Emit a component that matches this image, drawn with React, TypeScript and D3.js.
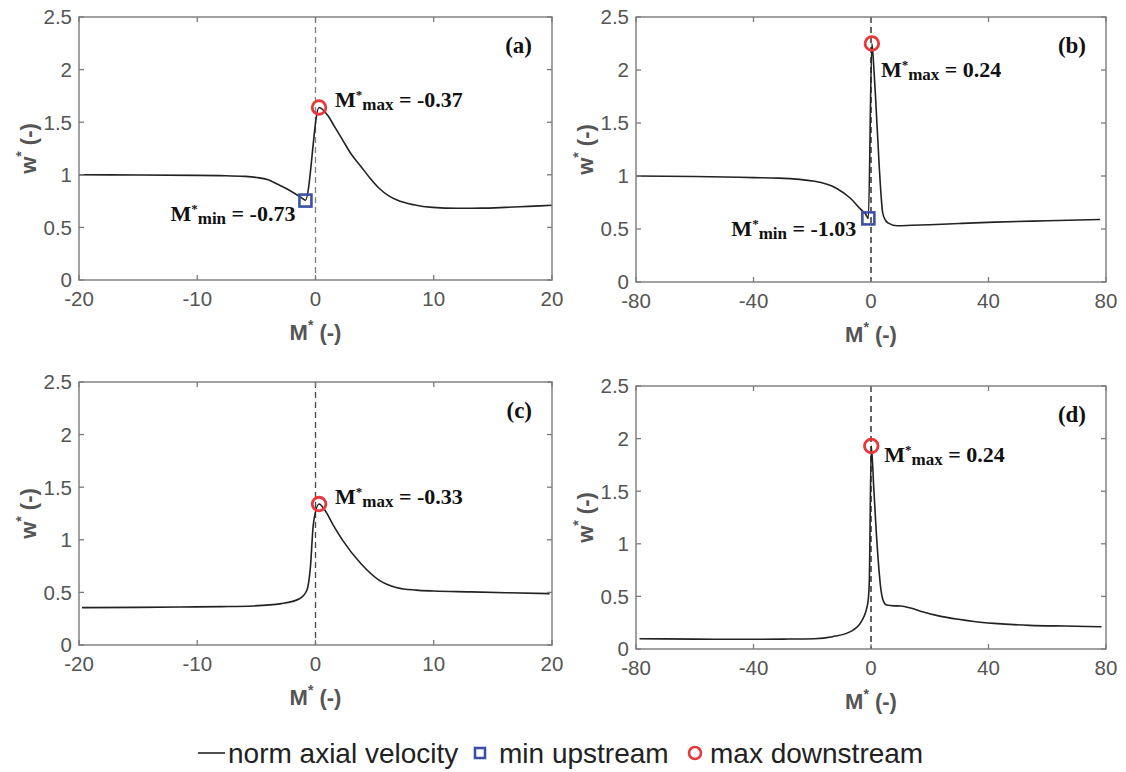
import React from 'react';
import * as d3 from 'd3';

// ---------- data ----------
const xA = [-20, -15, -10, -8, -6, -5, -4, -3.2, -2.4, -1.65, -1.2, -0.85, 0.3, 1.0, 1.6, 2.3, 3.0, 3.84, 4.6, 5.4, 6.2, 6.9, 8.3, 9.9, 12, 14, 16, 18, 20];
const yA = [1.0, 0.998, 0.995, 0.992, 0.985, 0.975, 0.952, 0.91, 0.865, 0.815, 0.783, 0.758, 1.64, 1.57, 1.46, 1.33, 1.2, 1.08, 0.97, 0.87, 0.8, 0.76, 0.715, 0.69, 0.682, 0.683, 0.69, 0.7, 0.71];

const xB = [-80, -60, -40, -31.4, -19.2, -11.8, -7, -3.3, -1.8, -0.9, 0.3, 0.9, 1.6, 2.8, 4.0, 5.0, 5.9, 8.9, 14, 20, 30, 42, 60, 78];
const yB = [1.0, 0.995, 0.985, 0.98, 0.95, 0.885, 0.79, 0.68, 0.64, 0.6, 2.25, 2.05, 1.72, 1.09, 0.65, 0.58, 0.555, 0.53, 0.535, 0.54, 0.552, 0.565, 0.578, 0.59];

const xC = [-19.75, -15, -11.4, -8, -5.3, -2.9, -1.35, -0.73, -0.43, -0.18, 0.3, 0.8, 1.5, 2.3, 3.85, 5.4, 6.9, 8.5, 10, 13, 16.1, 19.8];
const yC = [0.355, 0.358, 0.361, 0.365, 0.371, 0.393, 0.44, 0.52, 0.74, 1.15, 1.34, 1.28, 1.14, 0.995, 0.773, 0.615, 0.545, 0.522, 0.513, 0.505, 0.497, 0.488];

const xD = [-78.8, -60, -43.6, -30, -19.2, -13.1, -7, -3.3, -1.1, -0.6, 0.1, 0.98, 2.2, 3.4, 4.3, 5.25, 8, 10.1, 13.8, 17.5, 23, 29.7, 35, 41.9, 54, 66, 78.5];
const yD = [0.098, 0.094, 0.092, 0.094, 0.098, 0.117, 0.165, 0.26, 0.434, 0.62, 1.93, 1.51, 0.94, 0.56, 0.45, 0.418, 0.41, 0.409, 0.387, 0.355, 0.315, 0.282, 0.262, 0.244, 0.225, 0.218, 0.212];

const maxX = [0.3, 0.3, 0.3, 0.1];
const maxY = [1.64, 2.25, 1.34, 1.93];
const minX = [-0.85, -0.9];
const minY = [0.755, 0.6];
const maxLabels = ['-0.37', '0.24', '-0.33', '0.24'];
const minLabels = ['-0.73', '-1.03'];
const panelLetters = ['(a)', '(b)', '(c)', '(d)'];

const yTicks = [0, 0.5, 1, 1.5, 2, 2.5];
const xTicksNarrow = [-20, -10, 0, 10, 20];
const xTicksWide = [-80, -40, 0, 40, 80];

const legendLabels = ['norm axial velocity', 'min upstream', 'max downstream'];

// ---------- styles ----------
const SANS = '"Liberation Sans", Arial, Helvetica, sans-serif';
const SERIF = '"Liberation Serif", "Times New Roman", serif';
const AXIS = '#7a7a7a';
const TICKTXT = '#555555';
const RED = '#e8383b';
const BLUE = '#3d50a5';

type PanelProps = {
  idx: number;
  left: number; right: number; top: number; bottom: number;
  xDomain: [number, number];
  xTicks: number[];
  xs: number[]; ys: number[];
  dashColor: string;
  maxOff: [number, number];
  minOff?: [number, number];
  hasMin: boolean;
};

function Panel(p: PanelProps) {
  const x = d3.scaleLinear().domain(p.xDomain).range([p.left, p.right]);
  const y = d3.scaleLinear().domain([0, 2.5]).range([p.bottom, p.top]);
  const pts: [number, number][] = p.xs.map((v, i) => [v, p.ys[i]]);
  const line = d3.line<[number, number]>().x(d => x(d[0])).y(d => y(d[1])).curve(d3.curveMonotoneX);
  const tl = 5;
  const cx = x(maxX[p.idx]);
  const cy = y(maxY[p.idx]);
  const midY = (p.top + p.bottom) / 2;
  const x0 = x(0);
  return (
    <g>
      <line x1={x0} x2={x0} y1={p.top} y2={p.bottom} stroke={p.dashColor} strokeWidth={1.3} strokeDasharray="6,4" />
      <path d={line(pts) || ''} fill="none" stroke="#222" strokeWidth={1.6} />
      <rect x={p.left} y={p.top} width={p.right - p.left} height={p.bottom - p.top} fill="none" stroke={AXIS} strokeWidth={1.4} />
      {yTicks.map(t => (
        <g key={'y' + t}>
          <line x1={p.left} x2={p.left + tl} y1={y(t)} y2={y(t)} stroke={AXIS} strokeWidth={1.3} />
          <line x1={p.right} x2={p.right - tl} y1={y(t)} y2={y(t)} stroke={AXIS} strokeWidth={1.3} />
          <text x={p.left - 7} y={y(t)} dy="0.36em" textAnchor="end" fontFamily={SANS} fontSize={20.5} fill={TICKTXT}>{String(t)}</text>
        </g>
      ))}
      {p.xTicks.map(t => (
        <g key={'x' + t}>
          <line x1={x(t)} x2={x(t)} y1={p.bottom} y2={p.bottom - tl} stroke={AXIS} strokeWidth={1.3} />
          <line x1={x(t)} x2={x(t)} y1={p.top} y2={p.top + tl} stroke={AXIS} strokeWidth={1.3} />
          <text x={x(t)} y={p.bottom + 26} textAnchor="middle" fontFamily={SANS} fontSize={20.5} fill={TICKTXT}>{String(t)}</text>
        </g>
      ))}
      {/* x label */}
      <text x={x0} y={p.bottom + 60} textAnchor="middle" fontFamily={SANS} fontWeight="bold" fontSize={22} fill={TICKTXT}>
        M<tspan dy={-10} fontSize={14}>*</tspan><tspan dy={10}> (-)</tspan>
      </text>
      {/* y label */}
      <text transform={`translate(${p.left - 43},${midY}) rotate(-90)`} textAnchor="middle" fontFamily={SANS} fontWeight="bold" fontSize={22} fill={TICKTXT}>
        w<tspan dy={-10} fontSize={14}>*</tspan><tspan dy={10}> (-)</tspan>
      </text>
      {/* panel letter */}
      <text x={p.right - 20} y={p.top + 36} textAnchor="end" fontFamily={SERIF} fontWeight="bold" fontSize={23} fill="#111">{panelLetters[p.idx]}</text>
      {/* min marker */}
      {p.hasMin && p.minOff && (
        <g>
          <rect x={x(minX[p.idx]) - 6} y={y(minY[p.idx]) - 6} width={12} height={12} fill="none" stroke={BLUE} strokeWidth={2.6} />
          <text x={x(minX[p.idx]) + p.minOff[0]} y={y(minY[p.idx]) + p.minOff[1]} textAnchor="end" fontFamily={SERIF} fontWeight="bold" fontSize={22} fill="#111">
            M<tspan dy={-8} fontSize={13}>*</tspan><tspan dy={11} fontSize={17}>min</tspan><tspan dy={-3}>{' = ' + minLabels[p.idx]}</tspan>
          </text>
        </g>
      )}
      {/* max marker */}
      <circle cx={cx} cy={cy} r={6.8} fill="none" stroke={RED} strokeWidth={2.8} />
      <text x={cx + p.maxOff[0]} y={cy + p.maxOff[1]} fontFamily={SERIF} fontWeight="bold" fontSize={22} fill="#111">
        M<tspan dy={-8} fontSize={13}>*</tspan><tspan dy={11} fontSize={17}>max</tspan><tspan dy={-3}>{' = ' + maxLabels[p.idx]}</tspan>
      </text>
    </g>
  );
}

export default function App() {
  return (
    <svg width={1126} height={772} style={{ display: 'block', position: 'absolute', left: 0, top: 0 }} viewBox="0 0 1126 772">
      <rect x={0} y={0} width={1126} height={772} fill="#fff" />
      <Panel idx={0} left={79} right={552} top={17} bottom={280} xDomain={[-20, 20]} xTicks={xTicksNarrow} xs={xA} ys={yA} dashColor="#808080" maxOff={[16, 0]} minOff={[-10, 20]} hasMin={true} />
      <Panel idx={1} left={636} right={1106} top={17} bottom={282} xDomain={[-80, 80]} xTicks={xTicksWide} xs={xB} ys={yB} dashColor="#111" maxOff={[9, 33]} minOff={[-12, 18]} hasMin={true} />
      <Panel idx={2} left={79} right={552} top={382} bottom={645} xDomain={[-20, 20]} xTicks={xTicksNarrow} xs={xC} ys={yC} dashColor="#444" maxOff={[16, 0]} hasMin={false} />
      <Panel idx={3} left={636} right={1106} top={386} bottom={649} xDomain={[-80, 80]} xTicks={xTicksWide} xs={xD} ys={yD} dashColor="#111" maxOff={[13, 16]} hasMin={false} />
      {/* legend */}
      <g>
        <line x1={198} x2={225} y1={753} y2={753} stroke="#222" strokeWidth={1.6} />
        <text x={228} y={763} fontFamily={SANS} fontSize={28} fill="#222">{legendLabels[0]}</text>
        <rect x={475} y={748} width={10} height={10} fill="none" stroke={BLUE} strokeWidth={2.6} />
        <text x={499} y={763} fontFamily={SANS} fontSize={28} fill="#222">{legendLabels[1]}</text>
        <circle cx={695} cy={753} r={6} fill="none" stroke={RED} strokeWidth={2.6} />
        <text x={710} y={763} fontFamily={SANS} fontSize={28} fill="#222">{legendLabels[2]}</text>
      </g>
    </svg>
  );
}
